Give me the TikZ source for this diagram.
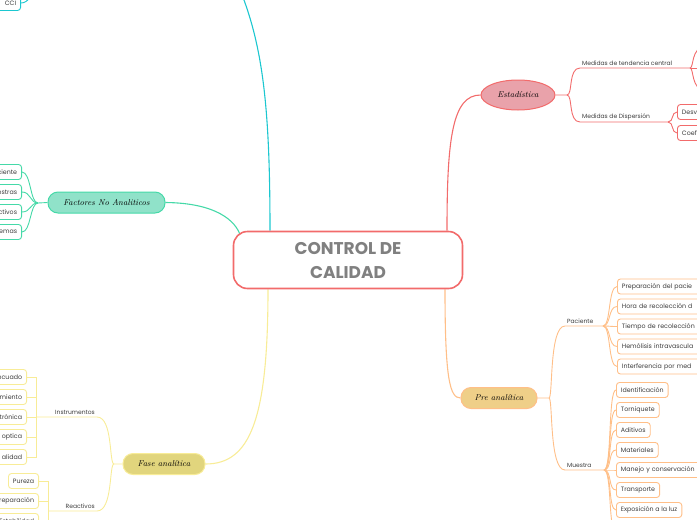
\documentclass[tikz,border=0pt]{standalone}
\usepackage{fontspec}
\setsansfont{Poppins}
\usetikzlibrary{shapes.geometric}
\pgfdeclarelayer{bg}
\pgfsetlayers{bg,main}

\definecolor{rootred}{HTML}{F26B6B}
\definecolor{statfill}{HTML}{E9A2AA}
\definecolor{tealline}{HTML}{45D9A8}
\definecolor{tealfill}{HTML}{90E2C9}
\definecolor{cyanline}{HTML}{1CC7D0}
\definecolor{yelline}{HTML}{F8EC97}
\definecolor{yelfill}{HTML}{E1D57D}
\definecolor{orline}{HTML}{FFBF88}
\definecolor{orfill}{HTML}{EFCF88}
\definecolor{leaftext}{HTML}{3C3C3C}

\tikzset{
  leaf/.style={draw, fill=white, rounded corners=3pt, line width=0.9pt,
    font=\sffamily\fontsize{6.3}{7}\selectfont, text=leaftext,
    minimum height=15pt, inner xsep=4.5pt, inner ysep=2pt},
  leafcut/.style={leaf, anchor=east, text width=70pt, align=right},
  leafopen/.style={leaf, anchor=west, text width=90pt, align=left},
  topic/.style={draw, line width=1pt, rounded corners=10pt, minimum height=21pt,
    font=\itshape\fontsize{8.5}{10}\selectfont, text=black},
  tag/.style={font=\sffamily\fontsize{6}{7}\selectfont, text=leaftext, inner sep=2pt},
  link/.style={line width=1.1pt},
  twig/.style={line width=0.9pt},
}

\begin{document}
\begin{tikzpicture}[x=1pt,y=-1pt]
  \useasboundingbox (0,0) rectangle (697,520);
  \clip (0,0) rectangle (697,520);

  % root
  \node[draw=rootred, line width=1.6pt, rounded corners=14pt, fill=white,
    minimum width=229pt, minimum height=57pt, align=center, text=black!50,
    font=\sffamily\bfseries\fontsize{17}{24}\selectfont] (root) at (348,260) {CONTROL DE\\CALIDAD};

  % Estadistica
  \node[ellipse, draw=rootred, fill=statfill, line width=1pt, minimum width=74pt,
    minimum height=30pt, inner sep=0pt, font=\itshape\fontsize{8.5}{10}\selectfont] (stat) at (518,95) {Estadística};
  \coordinate (statfork) at (567,95);
  \coordinate (centralfork) at (690,68);
  \coordinate (dispfork) at (668,122);
  \node[tag, anchor=south west] (central) at (580,68) {Medidas de tendencia central};
  \node[tag, anchor=south west] (disp) at (580,122) {Medidas de Dispersión};
  \node[leafopen, draw=rootred] (desv) at (677,112) {Desv};
  \node[leafopen, draw=rootred] (coef) at (677,133) {Coef};
  \coordinate (mean) at (705,47);
  \coordinate (median) at (705,68);
  \coordinate (mode) at (705,90);

  % Pre analitica
  \node[topic, draw=orline, fill=orfill, minimum width=76pt] (pre) at (499,398) {Pre analítica};
  \coordinate (prefork) at (549,398);
  \coordinate (pacfork) at (603,326);
  \coordinate (mfork) at (604,470);
  \node[tag, anchor=south west] (pac) at (565,326) {Paciente};
  \node[tag, anchor=south west] (mues) at (565,470) {Muestra};
  \foreach \txt [count=\i] in {Preparación del pacie, Hora de recolección d,
      Tiempo de recolección, Hemólisis intravascula, Interferencia por med}
    \node[leafopen, draw=orline] (pac\i) at (617,266.5+20*\i) {\txt};
  \foreach \txt [count=\i] in {Identificación, Torniquete, Aditivos, Materiales}
    \node[leaf, anchor=west, draw=orline] (m\i) at (616,370+20*\i) {\txt};
  \node[leafopen, draw=orline] (m5) at (616,470) {Manejo y conservación};
  \node[leaf, anchor=west, draw=orline] (m6) at (616,490) {Transporte};
  \node[leaf, anchor=west, draw=orline] (m7) at (616,510) {Exposición a la luz};
  \coordinate (m8) at (616,532);

  % Fase analitica
  \node[topic, draw=yelline, fill=yelfill, minimum width=82pt] (fase) at (164,464) {Fase analítica};
  \coordinate (fasefork) at (114,464);
  \coordinate (instfork) at (36,417);
  \coordinate (reacfork) at (48,511);
  \node[tag, anchor=south east] (inst) at (97,417) {Instrumentos};
  \node[tag, anchor=south east] (reac) at (97,511) {Reactivos};
  \foreach \txt [count=\i] in {ecuado, miento, trónica, optica, alidad}
    \node[leafcut, draw=yelline] (inst\i) at (27,357+20*\i) {\txt};
  \node[leaf, anchor=east, draw=yelline] (reac1) at (39,481) {Pureza};
  \node[leafcut, draw=yelline] (reac2) at (39,501) {reparación};
  \node[leaf, anchor=east, draw=yelline] (reac3) at (39,521) {Estabilidad};

  % Factores No Analiticos
  \node[topic, draw=tealline, fill=tealfill, minimum width=117pt] (fact) at (106.5,202.5) {Factores No Analiticos};
  \coordinate (factfork) at (38,203);
  \foreach \txt [count=\i] in {ciente, estras, ctivos, emas}
    \node[leafcut, draw=tealline] (fact\i) at (22,152+20*\i) {\txt};

  % CCI
  \node[leafcut, draw=cyanline] (cci) at (21,3) {CCI};
  \coordinate (cciup) at (33,-15);
  \coordinate (cyantop) at (236,-20);

  \begin{pgfonlayer}{bg}
    % Estadistica links
    \draw[link, rootred] ([xshift=99pt]root.north) .. controls (447,140) and (452,95) .. (stat.west);
    \draw[twig, rootred] (stat.east) -- (statfork) .. controls (573,95) and (568,68) .. (central.south west) -- (centralfork);
    \draw[twig, rootred] (statfork) .. controls (573,95) and (568,122) .. (disp.south west) -- (dispfork);
    \draw[twig, rootred] (centralfork) .. controls +(4,0) and +(-14,0) .. (mean);
    \draw[twig, rootred] (centralfork) -- (median);
    \draw[twig, rootred] (centralfork) .. controls +(4,0) and +(-14,0) .. (mode);
    \draw[twig, rootred] (dispfork) .. controls +(6,0) and +(-6,0) .. (desv.west);
    \draw[twig, rootred] (dispfork) .. controls +(6,0) and +(-6,0) .. (coef.west);

    % Pre analitica links
    \draw[link, orline] ([xshift=97pt]root.south) .. controls (445,380) and (450,398) .. (pre.west);
    \draw[twig, orline] (pre.east) -- (prefork) .. controls (553,398) and (549,326) .. (pac.south west) -- (pacfork);
    \draw[twig, orline] (prefork) .. controls (553,398) and (549,470) .. (mues.south west) -- (mfork);
    \foreach \i in {1,...,5}
      \draw[twig, orline] (pacfork) .. controls +(8,0) and +(-9,0) .. (pac\i.west);
    \foreach \i in {1,...,8}
      \draw[twig, orline] (mfork) .. controls +(8,0) and +(-8,0) .. (m\i.west);

    % Fase analitica links
    \draw[link, yelline] ([xshift=-80pt]root.south) .. controls (268,420) and (250,464) .. (fase.east);
    \draw[twig, yelline] (fase.west) -- (fasefork) .. controls (109,464) and (113,417) .. (inst.south east) -- (instfork);
    \draw[twig, yelline] (fasefork) .. controls (109,464) and (113,511) .. (reac.south east) -- (reacfork);
    \foreach \i in {1,...,5}
      \draw[twig, yelline] (inst\i.east) -| (instfork);
    \foreach \i in {1,2,3}
      \draw[twig, yelline] (reac\i.east) -| (reacfork);

    % Factores links
    \draw[link, tealline] (fact.east) .. controls (215,203) and (236,220) .. ([xshift=8pt,yshift=-6pt]root.north west);
    \draw[twig, tealline] (fact.west) -- (factfork);
    \foreach \i in {1,...,4}
      \draw[twig, tealline] (factfork) .. controls +(-8,0) and +(9,0) .. (fact\i.east);

    % top branch
    \draw[link, cyanline] ([xshift=-78pt]root.north) .. controls (270,100) and (262,40) .. (cyantop);
    \draw[twig, cyanline] (cci.east) .. controls +(8,0) and +(0,8) .. (cciup);
  \end{pgfonlayer}
\end{tikzpicture}
\end{document}
